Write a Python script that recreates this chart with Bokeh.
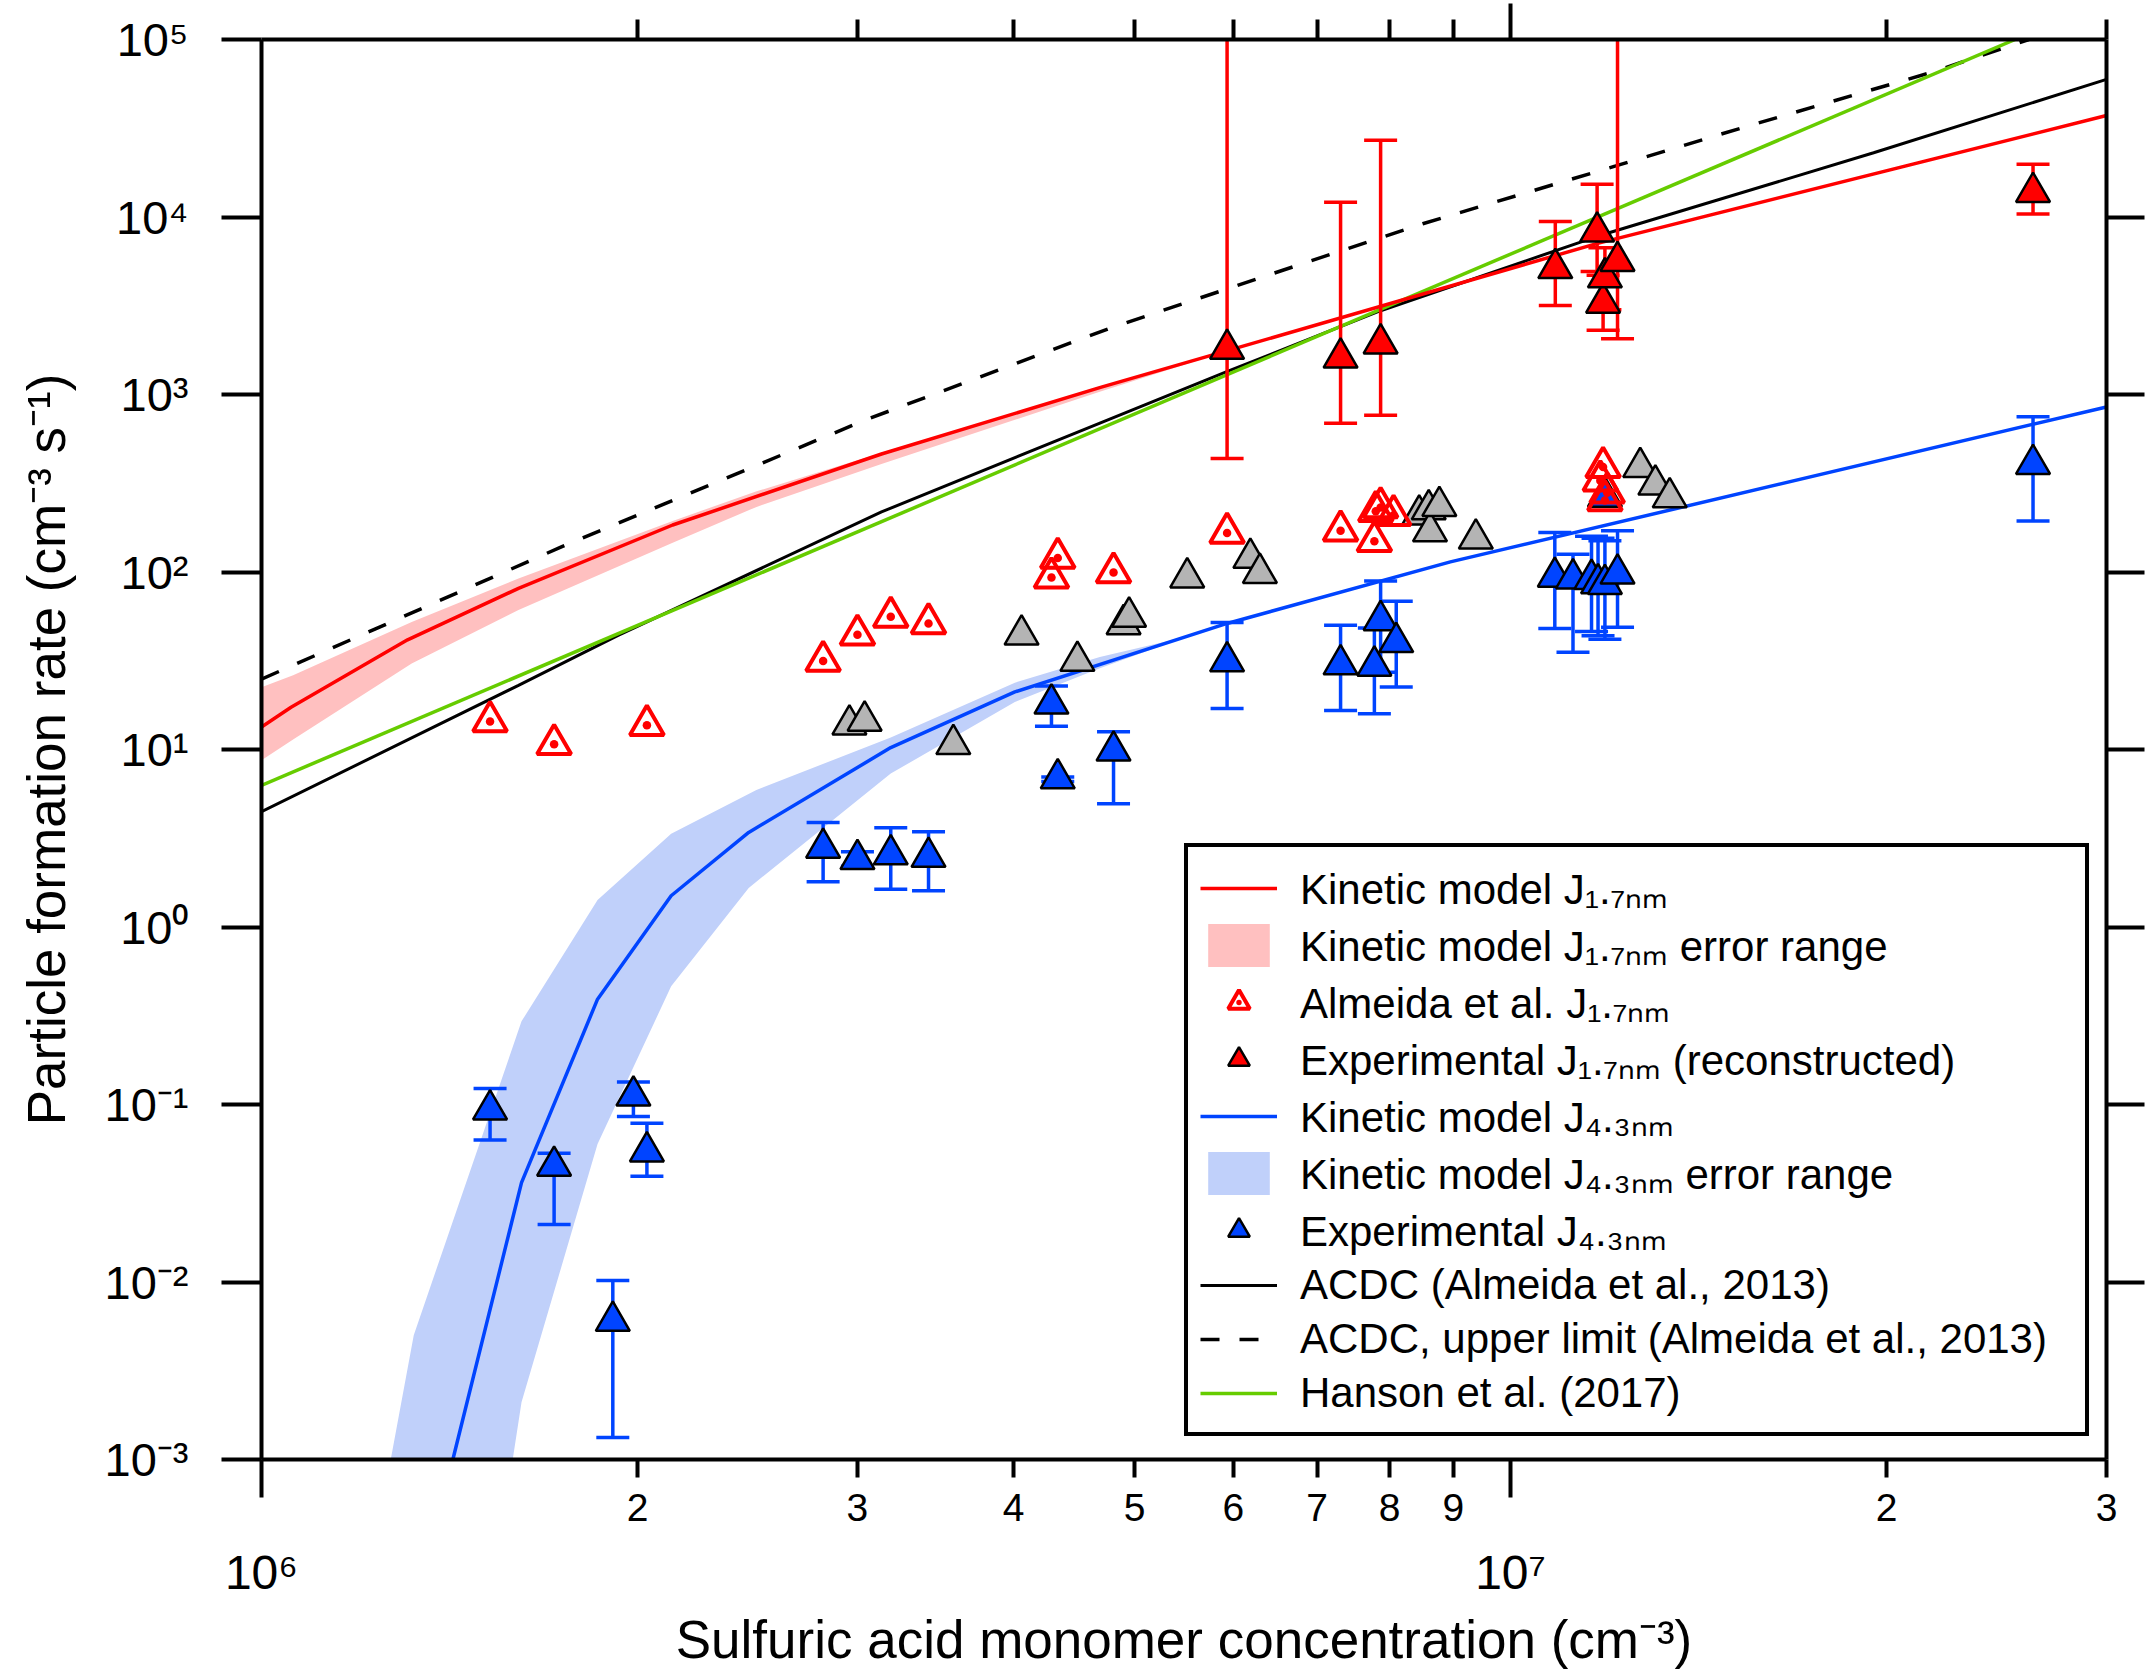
import math
from bokeh.plotting import figure
from bokeh.models import LogAxis, FixedTicker, Legend, LegendItem
from bokeh.embed import file_html
from bokeh.resources import INLINE

FONT = "Liberation Sans"

# kinetic model J1.7nm and its error range (upper / lower edge)
kin17_x = [1.0e6, 1.056e6, 1.309e6, 1.606e6, 2.134e6, 3.136e6, 4.696e6, 1.172e7, 3.0e7]
kin17_y = [13.4, 17.3, 41.5, 80.9, 184, 462, 1096, 7080, 3.73e4]
kin17_hi_x = [1.0e6, 1.06e6, 1.319e6, 1.606e6, 2.134e6, 2.488e6, 3.136e6, 4.696e6, 6.0e6]
kin17_hi_y = [22.4, 26.2, 52.2, 91.8, 194, 284, 470, 1100, 1807]
kin17_lo_x = [1.0e6, 1.06e6, 1.319e6, 1.606e6, 2.134e6, 2.488e6, 3.136e6, 4.696e6, 6.0e6]
kin17_lo_y = [8.7, 11.4, 30.5, 61, 146, 232, 406, 1040, 1807]

# kinetic model J4.3nm and its error range
kin43_x = [1.423e6, 1.615e6, 1.858e6, 2.128e6, 2.455e6, 3.19e6, 4.01e6, 5.93e6, 8.95e6, 3.0e7]
kin43_y = [1.0e-3, 0.0363, 0.392, 1.50, 3.41, 10.25, 21.1, 51.3, 114, 851]
kin43_hi_x = [1.269e6, 1.324e6, 1.615e6, 1.858e6, 2.128e6, 2.49e6, 3.19e6, 4.01e6, 4.69e6, 5.5e6]
kin43_hi_y = [1.0e-3, 5.02e-3, 0.294, 1.42, 3.35, 5.91, 11.7, 23.8, 33.2, 43.2]
kin43_lo_x = [1.589e6, 1.615e6, 1.858e6, 2.128e6, 2.455e6, 3.19e6, 4.01e6, 4.69e6, 5.5e6]
kin43_lo_y = [1.0e-3, 2.1e-3, 0.060, 0.463, 1.66, 7.32, 18.5, 28.7, 43.2]

# ACDC, ACDC upper limit, Hanson et al.
acdc_x = [1.0e6, 1.606e6, 1.928e6, 3.136e6, 4.696e6, 5.92e6, 7.87e6, 1.172e7, 1.953e7, 3.0e7]
acdc_y = [4.46, 23.0, 43.8, 218, 692, 1340, 2965, 7760, 2.30e4, 5.96e4]
acdc_up_x = [1.0e6, 1.740e6, 3.051e6, 4.780e6, 6.393e6, 8.505e6, 1.214e7, 1.539e7, 2.173e7, 2.6e7]
acdc_up_y = [24.9, 139, 723, 2366, 4700, 9160, 1.94e4, 3.21e4, 6.53e4, 1.0e5]
hanson_x = [1.0e6, 2.535e7]
hanson_y = [6.28, 1.0e5]

# Almeida et al. J1.7nm
alm_x = [1.524e6, 1.715e6, 2.035e6, 2.816e6, 3.0e6, 3.19e6, 3.42e6, 4.29e6, 4.34e6, 4.81e6,
         5.93e6, 7.31e6, 7.78e6, 7.80e6, 7.87e6, 8.06e6, 1.18e7, 1.19e7, 1.195e7, 1.186e7]
alm_y = [14.4, 10.7, 13.7, 31.5, 44.3, 55.9, 51.3, 93, 120, 99.3,
         166, 171, 149, 220, 231, 209, 327, 253, 280, 390]

# grey points
gray_x = [2.956e6, 3.04e6, 3.58e6, 4.06e6, 4.50e6, 4.90e6, 4.95e6, 5.51e6, 6.19e6, 6.30e6,
          8.45e6, 8.60e6, 8.62e6, 8.77e6, 9.38e6, 1.27e7, 1.306e7, 1.341e7]
gray_y = [13.8, 14.5, 10.7, 44.3, 31.5, 50.7, 55.9, 93, 120, 98.6,
          210, 225, 169, 235, 154, 389, 310, 263]

# experimental J4.3nm with error bars
exp43_x = [1.524e6, 1.715e6, 1.911e6, 1.985e6, 2.035e6, 2.816e6, 3.0e6, 3.19e6, 3.42e6, 4.29e6,
           4.34e6, 4.81e6, 5.93e6, 7.31e6, 7.78e6, 7.87e6, 8.10e6, 1.085e7, 1.122e7, 1.161e7,
           1.175e7, 1.19e7, 1.218e7, 2.62e7, 1.19e7]
exp43_y = [0.0935, 0.0451, 0.00603, 0.112, 0.0543, 2.79, 2.41, 2.56, 2.48, 18.1,
           6.87, 9.84, 31.3, 30.1, 29.6, 53.4, 40.2, 93.8, 91.8, 91.2,
           86.2, 85.4, 97.7, 405, 265]
exp43_lo = [0.063, 0.0211, 0.00133, 0.0855, 0.0394, 1.80, 2.2, 1.63, 1.60, 13.5,
            6.6, 4.94, 17.0, 16.6, 15.9, 27.2, 22.5, 48.0, 35.3, 46.2,
            43.7, 41.8, 48.9, 194, None]
exp43_hi = [0.123, 0.0532, 0.0102, 0.134, 0.0785, 3.88, 2.65, 3.62, 3.44, 22.8,
            7.0, 12.6, 51.9, 50.1, 48.3, 88.9, 68.5, 167, 126, 159,
            155, 150, 171, 749, None]

# experimental J1.7nm (reconstructed) with error bars
exp17_x = [5.93e6, 7.31e6, 7.87e6, 1.086e7, 1.173e7, 1.186e7, 1.19e7, 1.218e7, 2.62e7]
exp17_y = [1804, 1612, 1935, 5140, 8260, 3285, 4560, 5640, 1.38e4]
exp17_lo = [436, 688, 765, 3170, 4930, 2305, 3000, 2060, 1.04e4]
exp17_hi = [1.2e5, 1.21e4, 2.71e4, 9420, 1.53e4, 4700, 6700, 1.2e5, 1.98e4]

y_decades = [1e-3, 1e-2, 1e-1, 1e0, 1e1, 1e2, 1e3, 1e4, 1e5]
x_decades = [1e6, 1e7]
x_minor = [2e6, 3e6, 4e6, 5e6, 6e6, 7e6, 8e6, 9e6, 2e7, 3e7]
x_minor_labels = ["2", "3", "4", "5", "6", "7", "8", "9", "2", "3"]

RED = "#ff0000"
BLUE = "#0044ff"
PINK = "#ffc0c0"
LIGHTBLUE = "#c0d0fa"
GREY = "#b4b4b4"
GREEN = "#66cc00"

SUP = str.maketrans("0123456789-", "⁰¹²³⁴⁵⁶⁷⁸⁹⁻")


def pow10(v):
    return "10" + str(int(round(math.log10(v)))).translate(SUP)


p = figure(width=2146, height=1672, x_axis_type="log", y_axis_type="log",
           x_range=(1e6, 3e7), y_range=(1e-3, 1e5),
           output_backend="svg", toolbar_location=None,
           min_border_left=261, min_border_right=40, min_border_top=39, min_border_bottom=213)
p.grid.visible = False
p.outline_line_color = None
p.background_fill_color = "white"
p.border_fill_color = "white"


def style_axis(ax, tick_out, minor_out=0):
    ax.axis_line_width = 4
    ax.axis_line_color = "black"
    ax.major_tick_line_width = 4
    ax.minor_tick_line_width = 4
    ax.major_tick_out = tick_out
    ax.major_tick_in = 0
    ax.minor_tick_out = minor_out
    ax.minor_tick_in = 0
    ax.major_label_text_font = FONT
    ax.major_label_text_color = "black"
    ax.axis_label_text_font = FONT
    ax.axis_label_text_color = "black"
    ax.axis_label_text_font_style = "normal"


def hide_labels(ax):
    ax.major_label_text_font_size = "0px"
    ax.major_label_text_color = None
    ax.major_label_standoff = 0


# left axis: 10^n labels and the title
yl = p.yaxis[0]
yl.ticker = FixedTicker(ticks=y_decades, minor_ticks=[])
style_axis(yl, 40)
yl.major_label_overrides = {d: pow10(d) for d in y_decades}
yl.major_label_text_font_size = "47px"
yl.major_label_standoff = 33
yl.axis_label = "Particle formation rate (cm⁻³ s⁻¹)"
yl.axis_label_text_font_size = "53px"
yl.axis_label_standoff = 26

# bottom axis: 2..9 labels, long ticks at the decades
xb = p.xaxis[0]
xb.ticker = FixedTicker(ticks=x_minor, minor_ticks=x_decades)
style_axis(xb, 18, 38)
xb.major_label_overrides = {int(v): s for v, s in zip(x_minor, x_minor_labels)}
xb.major_label_text_font_size = "39px"
xb.major_label_standoff = -4

# second bottom axis: decade labels and the title
xd = LogAxis(ticker=FixedTicker(ticks=x_decades, minor_ticks=[]))
style_axis(xd, 0)
xd.axis_line_color = None
xd.major_tick_line_color = None
xd.major_label_overrides = {int(v): pow10(v) for v in x_decades}
xd.major_label_text_font_size = "48px"
xd.major_label_standoff = 22
xd.axis_label = "Sulfuric acid monomer concentration (cm⁻³)"
xd.axis_label_text_font_size = "53px"
xd.axis_label_standoff = 8
p.add_layout(xd, "below")

xt = LogAxis(ticker=FixedTicker(ticks=x_minor, minor_ticks=[1e7]))
style_axis(xt, 20, 36)
hide_labels(xt)
p.add_layout(xt, "above")

yr = LogAxis(ticker=FixedTicker(ticks=y_decades[1:-1], minor_ticks=[]))
style_axis(yr, 38)
hide_labels(yr)
p.add_layout(yr, "right")

# model error ranges
band17 = p.patch(kin17_hi_x + kin17_lo_x[::-1], kin17_hi_y + kin17_lo_y[::-1],
                 fill_color=PINK, line_color=None)
band43 = p.patch(kin43_hi_x + kin43_lo_x[::-1], kin43_hi_y + kin43_lo_y[::-1],
                 fill_color=LIGHTBLUE, line_color=None)

# model curves
r_up = p.line(acdc_up_x, acdc_up_y, line_color="black", line_width=3.5, line_dash="19 20")
r_acdc = p.line(acdc_x, acdc_y, line_color="black", line_width=3)
r_han = p.line(hanson_x, hanson_y, line_color=GREEN, line_width=3.5)
r_k17 = p.line(kin17_x, kin17_y, line_color=RED, line_width=3.5)
r_k43 = p.line(kin43_x, kin43_y, line_color=BLUE, line_width=3.5)

# grey points
p.scatter(gray_x, gray_y, marker="triangle", size=34, fill_color=GREY,
          line_color="black", line_width=2.5)


def error_bars(xs, lo, hi, color):
    pts = [(x, l, h) for x, l, h in zip(xs, lo, hi) if l is not None]
    ex = [t[0] for t in pts]
    el = [t[1] for t in pts]
    eh = [t[2] for t in pts]
    p.segment(ex, el, ex, eh, line_color=color, line_width=3.5)
    p.scatter(ex, el, marker="dash", size=33, line_color=color, line_width=3.5)
    p.scatter(ex, eh, marker="dash", size=33, line_color=color, line_width=3.5)


error_bars(exp43_x, exp43_lo, exp43_hi, BLUE)
error_bars(exp17_x, exp17_lo, exp17_hi, RED)

r_e43 = p.scatter(exp43_x, exp43_y, marker="triangle", size=34, fill_color=BLUE,
                  line_color="black", line_width=2.5)
r_e17 = p.scatter(exp17_x, exp17_y, marker="triangle", size=34, fill_color=RED,
                  line_color="black", line_width=2.5)
r_alm = p.scatter(alm_x, alm_y, marker="triangle_dot", size=34, fill_color=None,
                  line_color=RED, line_width=4)

# legend
J17 = "J₁.₇ₙₘ"
J43 = "J₄.₃ₙₘ"
LEG_LEFT, LEG_TOP, PAD, ROW = 1184, 872, 12, 54
items = [
    ("Kinetic model " + J17, r_k17),
    ("Kinetic model " + J17 + " error range", band17),
    ("Almeida et al. " + J17, r_alm),
    ("Experimental " + J17 + " (reconstructed)", r_e17),
    ("Kinetic model " + J43, r_k43),
    ("Kinetic model " + J43 + " error range", band43),
    ("Experimental " + J43, r_e43),
    ("ACDC (Almeida et al., 2013)", r_acdc),
    ("ACDC, upper limit (Almeida et al., 2013)", r_up),
    ("Hanson et al. (2017)", r_han),
]
legend = Legend(items=[LegendItem(label=t, renderers=[r]) for t, r in items],
                location=(LEG_LEFT - 261, 1459 - (LEG_TOP + 2 * PAD + len(items) * ROW)),
                padding=PAD, spacing=0, glyph_width=77, glyph_height=ROW,
                label_height=ROW, label_width=773, label_standoff=23,
                label_text_font=FONT, label_text_font_size="42px", label_text_color="black",
                border_line_color="black", border_line_width=4, border_line_alpha=1.0,
                background_fill_color="white", background_fill_alpha=1.0)
p.add_layout(legend)

open("out.html", "w").write(file_html(p, INLINE))
